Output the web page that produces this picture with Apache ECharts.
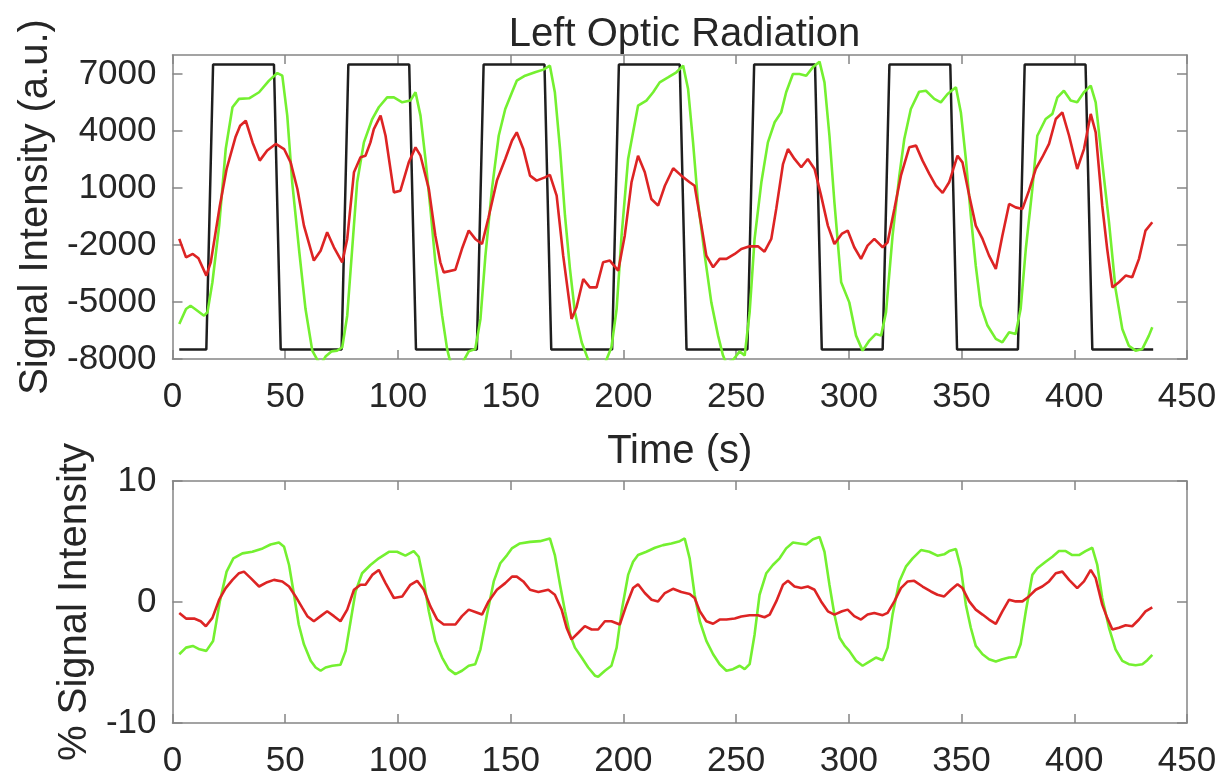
<!DOCTYPE html>
<html>
<head>
<meta charset="utf-8">
<script src="https://cdn.jsdelivr.net/npm/echarts@6/dist/echarts.min.js"></script>
<style>
  html, body { margin: 0; padding: 0; background: #ffffff; }
  #chart { width: 1225px; height: 779px; }
</style>
</head>
<body>
<div id="chart"></div>
<script>
// Block-design stimulus (on/off boxcar), [time (s), signal (a.u.)]
const stimulus = [
  [3,-7500],[15,-7500],[18,7500],[45,7500],[48,-7500],[75,-7500],[78,7500],[105,7500],
  [108,-7500],[135,-7500],[138,7500],[165,7500],[168,-7500],[195,-7500],[198,7500],
  [225,7500],[228,-7500],[255,-7500],[258,7500],[285,7500],[288,-7500],[315,-7500],
  [318,7500],[345,7500],[348,-7500],[375,-7500],[378,7500],[405,7500],[408,-7500],[435,-7500]
];

// Green time course, raw signal (a.u.)
const greenSignal = [
  [3,-6160],[6,-5370],[8,-5200],[10,-5370],[14,-5720],[15.5,-5540],[17.7,-3960],[20.7,-980],
  [23.6,3050],[26.6,5250],[29.5,5690],[34,5720],[38.4,6040],[42.8,6650],[46.5,7050],[48.7,6910],
  [50.9,4810],[53.1,1300],[56.1,-2210],[59,-5370],[62,-7560],[64.5,-8100],[66,-8250],[68,-7850],
  [70.5,-7600],[73,-7560],[75.3,-7380],[77.5,-5720],[79.7,-2210],[81.9,1300],[84.9,3400],
  [88.6,4630],[91.5,5250],[95.2,5770],[98.2,5770],[101.9,5510],[105.5,5600],[107.8,6040],
  [110,4810],[112.2,2530],[114.4,-100],[116.6,-2910],[119.6,-5720],[121.8,-7470],[123,-8050],
  [125.5,-8640],[128.4,-8240],[131.4,-7600],[134.3,-7470],[136.6,-5890],[138.8,-2560],
  [141.7,950],[144.7,3750],[147.6,5160],[150.6,6040],[152.7,6650],[156.4,6910],[160.8,7090],
  [164.5,7230],[167.4,7440],[169.6,6040],[171.9,3050],[174.1,-460],[176.3,-3260],[178.5,-5540],
  [181.5,-7120],[183.7,-7820],[185.5,-8400],[187.4,-8830],[188.8,-8960],[191.8,-8240],
  [194.7,-7380],[197,-5370],[199.2,-1510],[202.1,2530],[204.3,3930],[206.5,5330],[210.2,5600],
  [213.2,6040],[216.1,6560],[219.8,6820],[223.5,7090],[226.5,7440],[228.7,6210],[230.9,3400],
  [233.1,250],[236.1,-2560],[239,-5020],[242,-6770],[244.2,-7820],[245.7,-8240],[248.6,-8050],
  [251.6,-7600],[253.8,-7820],[256,-5540],[258.2,-1680],[261.2,1300],[264.1,3400],[267.1,4460],
  [270,4980],[272.2,6040],[275.2,7000],[278.1,7000],[281.1,6910],[284,7350],[287,7650],
  [289.2,6560],[291.4,3750],[293.6,250],[296.6,-3960],[300.2,-5020],[303.2,-6770],[306.1,-7560],
  [309.1,-7030],[312,-6680],[314.3,-6770],[316.5,-5540],[319.4,-1510],[322.4,1650],[324.6,3580],
  [327.5,5160],[331.2,6070],[334.2,6120],[337.9,5690],[340.8,5510],[343.8,5950],[347.5,6300],
  [349.7,4980],[351.9,2530],[354.1,-460],[356.3,-3090],[358.5,-5190],[361.5,-6240],[365.2,-6940],
  [368.1,-7120],[371.1,-6590],[374,-6680],[376.2,-5370],[378.5,-2210],[381.4,950],[383.6,3750],
  [387.3,4630],[390.3,4900],[392.5,5770],[395.4,6120],[398.4,5600],[401.3,5510],[404.3,6040],
  [407.3,6390],[409.5,5510],[412.4,2350],[415.4,-800],[418.3,-4310],[421.3,-6420],[424.2,-7300],
  [427.2,-7560],[430.2,-7470],[433.1,-6770],[434.6,-6330]
];

// Red time course, raw signal (a.u.)
const redSignal = [
  [3,-1680],[6,-2650],[9,-2470],[11.5,-2700],[15,-3610],[17,-2900],[21,70],[24,2000],[28,3700],
  [30,4280],[32.5,4540],[35.5,3400],[38.7,2440],[42,2970],[45.8,3320],[49.5,3050],[52.4,2350],
  [55.4,950],[58.3,-980],[62.7,-2820],[65.7,-2300],[68.6,-1330],[71.6,-2120],[75.3,-2910],
  [77.5,-1680],[80.5,1830],[83.4,2620],[85.6,2700],[87.8,3400],[89.3,4100],[92.3,4810],
  [94.5,3750],[98.2,770],[101.1,860],[104.8,2350],[107.8,3140],[110,2700],[113.7,950],
  [116.6,-1510],[118.8,-2910],[120.3,-3440],[125.5,-3300],[128.4,-2200],[131.4,-1240],
  [134.3,-1680],[137.3,-1950],[140.2,-540],[143.9,1390],[147.6,2530],[150.6,3500],[152.7,3930],
  [155.6,3050],[158.6,1650],[161.5,1390],[165.2,1560],[167.4,1690],[170.4,600],[173.3,-2560],
  [177,-5890],[179.2,-5280],[182.2,-3790],[185.1,-4230],[188.1,-4230],[191,-2910],[194,-2820],
  [197.7,-3350],[200.6,-1510],[203.6,1300],[206.5,2700],[209.5,1830],[212.4,420],[215.4,70],
  [218.4,1120],[222.1,2040],[225.7,1650],[229.4,1300],[231.6,1120],[234.6,-980],[236.8,-2560],
  [239.8,-3170],[242.7,-2730],[245.7,-2730],[249.4,-2470],[252.3,-2210],[256,-2070],
  [259.7,-2070],[262.6,-2350],[265.6,-1680],[267.8,-100],[270.8,2260],[273,3050],[275.9,2530],
  [278.9,2090],[281.8,2530],[284.8,2000],[287.7,600],[290.7,-980],[293.6,-1950],[297,-1400],
  [299.5,-1240],[302.4,-2120],[305.4,-2730],[308.3,-2030],[311.3,-1680],[315,-2120],
  [317.2,-1860],[320.2,-100],[323.1,1650],[326.8,3140],[329.8,3230],[332.7,2440],[335.7,1740],
  [338.6,1120],[341.6,740],[344.5,1300],[348.2,2700],[350.4,2350],[353.4,600],[356.3,-980],
  [359.3,-1680],[362.2,-2560],[365.2,-3260],[368.1,-1510],[371.1,160],[374,-20],[377,-100],
  [379.9,860],[382.9,2000],[385.8,2620],[388.8,3320],[391.8,4630],[394.7,4980],[397.7,3750],
  [401.3,2000],[404.3,3050],[407.3,4900],[409.5,3930],[412.4,70],[414.6,-2210],[416.9,-4230],
  [419.8,-3960],[422.8,-3610],[425.7,-3700],[428.7,-2730],[431.6,-1240],[434.6,-800]
];

// Green time course, percent signal change
const greenPercent = [
  [3,-4.32],[6,-3.77],[9,-3.63],[12,-3.91],[15,-4.04],[18,-3.22],[21,0.05],[24,2.51],[27,3.61],
  [31,4.02],[35.4,4.15],[40,4.43],[43.5,4.75],[47.2,4.92],[49.5,4.56],[51.7,3.06],[53.9,0.6],
  [56,-1.86],[58.3,-3.5],[61.3,-4.86],[63.5,-5.41],[65.7,-5.68],[67.9,-5.41],[70.9,-5.27],
  [74.5,-5.19],[76.8,-4.04],[79,-1.59],[81.2,0.87],[84.1,2.38],[87.8,3.06],[91.5,3.61],[96,4.15],
  [99.6,4.15],[103.3,3.83],[107,4.21],[109.2,3.74],[111.5,1.7],[113.7,-0.77],[116.6,-3.22],
  [119.6,-4.59],[122.5,-5.55],[125.5,-5.96],[128.4,-5.68],[131.4,-5.27],[134.3,-5.14],
  [136.6,-3.91],[139.5,-1.04],[142.5,1.7],[145.4,3.2],[148.4,3.88],[150.5,4.43],[154.1,4.84],
  [158.6,4.97],[163,5.03],[167.4,5.25],[169.6,3.88],[171.9,1.42],[174.1,-0.77],[176.3,-2.68],
  [178.5,-3.77],[181.5,-4.59],[184.4,-5.41],[187.4,-6.09],[188.8,-6.18],[191.8,-5.68],
  [194.7,-5.27],[197,-3.77],[199.2,-0.77],[202.1,2.24],[204.3,3.33],[206.5,3.88],[210.2,4.15],
  [214,4.48],[217.6,4.7],[221.3,4.84],[225,5.03],[227.2,5.25],[229.4,3.61],[231.6,0.6],
  [233.9,-1.59],[236.8,-3.22],[239.8,-4.32],[242.7,-5.14],[245.7,-5.68],[248.6,-5.55],
  [251.6,-5.27],[253.8,-5.55],[256,-5.14],[258.2,-2.68],[260.4,0.6],[263.4,2.38],[266.3,3.06],
  [269.3,3.61],[272.2,4.43],[275.2,4.92],[278.1,4.84],[281.1,4.75],[284.1,5.19],[287,5.38],
  [289.2,4.15],[291.4,1.42],[293.6,-1.04],[295.9,-2.95],[298.1,-3.6],[300.2,-4.04],[303.2,-4.86],
  [306.1,-5.27],[309.1,-4.92],[312,-4.59],[315,-4.81],[317.2,-3.77],[319.4,-1.04],[322.4,1.7],
  [325.3,2.92],[328.3,3.61],[332,4.29],[335.7,4.15],[339.3,3.83],[342.3,3.94],[344.5,4.21],
  [347.5,4.37],[349.7,2.79],[351.9,-0.22],[354.1,-2.13],[356.3,-3.63],[359.3,-4.32],
  [362.2,-4.73],[365.2,-4.92],[368.1,-4.73],[371.1,-4.59],[374,-4.54],[376.2,-3.5],
  [378.5,-0.77],[381.4,2.24],[383.6,2.79],[387.3,3.33],[390.3,3.74],[393.2,4.21],[396.2,4.21],
  [399.1,3.88],[402.1,3.88],[405,4.21],[408,4.48],[410.2,3.06],[412.4,0.33],[415.4,-2.13],
  [418.3,-3.91],[421.3,-4.86],[424.2,-5.14],[427.2,-5.22],[430.2,-5.14],[432.4,-4.81],[434.6,-4.37]
];

// Red time course, percent signal change
const redPercent = [
  [3,-0.9],[6,-1.37],[9.6,-1.37],[12.5,-1.59],[14.8,-2.0],[17.7,-1.31],[20.7,0.19],[23.6,1.15],
  [26.6,1.83],[29.5,2.38],[31.7,2.51],[34.7,1.97],[38.4,1.28],[42,1.64],[45,1.83],[48.7,1.7],
  [51.7,1.28],[54.6,0.46],[57.6,-0.49],[59.8,-1.17],[62.7,-1.59],[65.7,-1.17],[68.6,-0.77],
  [71.6,-1.17],[74.5,-1.59],[77.5,-0.63],[80.5,1.01],[83.4,1.42],[85.6,1.42],[88.6,2.24],
  [91.5,2.65],[94.5,1.56],[98.2,0.33],[101.9,0.46],[105.5,1.42],[108.5,1.75],[111.5,1.01],
  [114.4,-0.36],[117.4,-1.45],[120.3,-1.86],[125.5,-1.86],[128.4,-1.17],[131.4,-0.63],
  [134.3,-0.82],[137.3,-1.04],[140.2,0.05],[143.9,1.01],[147.6,1.56],[150.6,2.1],[152.7,2.1],
  [155.6,1.7],[158.6,1.01],[162.3,0.82],[166.7,1.01],[169.6,0.6],[172.6,-0.63],[174.8,-2.13],
  [177,-3.09],[180,-2.54],[182.9,-2.0],[185.9,-2.27],[188.8,-2.27],[191.8,-1.59],[194.7,-1.59],
  [198.4,-1.86],[201.4,-0.22],[204.3,1.15],[206.5,1.47],[209.5,0.74],[212.5,0.19],[215.4,0.05],
  [218.4,0.74],[222,1.09],[225.7,0.82],[229.4,0.66],[231.6,0.33],[233.9,-0.77],[236.8,-1.59],
  [239.8,-1.8],[242.7,-1.45],[245.7,-1.45],[249.4,-1.37],[252.3,-1.2],[256,-1.09],[259.7,-1.09],
  [262.6,-1.26],[264.9,-1.04],[267.8,0.05],[270.8,1.42],[273,1.75],[275.9,1.28],[278.9,1.15],
  [281.8,1.28],[284.8,1.01],[287.7,0.05],[290.7,-0.77],[293.6,-1.04],[297,-0.77],[299.5,-0.63],
  [302.4,-1.17],[305.4,-1.45],[308.3,-1.04],[311.3,-0.9],[315,-1.09],[317.2,-0.9],[320.2,0.05],
  [323.1,1.15],[326.1,1.7],[329,1.75],[332.7,1.28],[336.4,0.87],[339.3,0.6],[342.3,0.46],
  [345.3,1.01],[348.2,1.47],[350.4,1.15],[353.4,0.05],[356.3,-0.63],[359.3,-1.04],[362.2,-1.45],
  [365.2,-1.8],[368.1,-0.77],[371.1,0.19],[374,0.05],[377,0.05],[379.9,0.46],[382.9,1.01],
  [385.8,1.28],[388.8,1.7],[391.8,2.38],[394.7,2.51],[397.7,1.83],[401.3,1.15],[404.3,1.7],
  [407.3,2.65],[409.5,1.97],[412.4,-0.22],[414.6,-1.31],[416.9,-2.27],[419.8,-2.13],
  [422.8,-1.92],[425.7,-2.0],[428.7,-1.45],[431.6,-0.77],[434.6,-0.44]
];

// Axis ranges and tick positions
const timeRange = [0, 450];
const timeStep = 50;
const signalRange = [-8000, 8000];
const signalTicks = [-8000, -5000, -2000, 1000, 4000, 7000];
const percentRange = [-10, 10];
const percentTicks = [-10, 0, 10];

const FONT = '"Liberation Sans", Arial, Helvetica, sans-serif';
const TEXT = '#262626';
const BOX = { color: '#858585', width: 1.5 };
const TICK_FONT = 35;
const NAME_FONT = 40;
const plain = (v) => String(v);

function timeAxes(gridIndex, name) {
  const common = {
    type: 'value', gridIndex,
    min: timeRange[0], max: timeRange[1], interval: timeStep,
    axisLine: { show: true, onZero: false, lineStyle: BOX },
    axisTick: { show: true, inside: true, length: 9, lineStyle: BOX },
    splitLine: { show: false }
  };
  return [
    Object.assign({}, common, {
      position: 'bottom',
      axisLabel: { fontSize: TICK_FONT, color: TEXT, fontFamily: FONT, margin: 21, formatter: plain },
      name: name || '',
      nameLocation: 'middle',
      nameGap: 73,
      nameTextStyle: { fontSize: NAME_FONT, color: TEXT, fontFamily: FONT }
    }),
    Object.assign({}, common, { position: 'top', axisLabel: { show: false } })
  ];
}

function valueAxes(gridIndex, range, ticks, name, gap) {
  const common = {
    type: 'value', gridIndex, min: range[0], max: range[1],
    axisLine: { show: true, onZero: false, lineStyle: BOX },
    axisTick: { show: true, inside: true, length: 10, lineStyle: BOX, customValues: ticks },
    splitLine: { show: false }
  };
  return [
    Object.assign({}, common, {
      position: 'left',
      axisLabel: {
        fontSize: TICK_FONT, color: TEXT, fontFamily: FONT, margin: 16,
        customValues: ticks, formatter: plain
      },
      name,
      nameLocation: 'middle',
      nameGap: gap,
      nameTextStyle: { fontSize: NAME_FONT, color: TEXT, fontFamily: FONT }
    }),
    Object.assign({}, common, { position: 'right', axisLabel: { show: false } })
  ];
}

function trace(data, color, x, y, width, z) {
  return {
    type: 'line', data, xAxisIndex: x, yAxisIndex: y,
    showSymbol: false, symbol: 'none', clip: true, z,
    lineStyle: { color, width }
  };
}

const chart = echarts.init(document.getElementById('chart'), null, { renderer: 'canvas' });
chart.setOption({
  animation: false,
  backgroundColor: '#ffffff',
  title: {
    text: 'Left Optic Radiation',
    left: 679.5, top: 10, textAlign: 'center',
    textStyle: { fontSize: NAME_FONT, fontWeight: 'normal', color: TEXT, fontFamily: FONT }
  },
  grid: [
    { left: 172.5, top: 55, width: 1014.5, height: 304, containLabel: false },
    { left: 172.5, top: 481, width: 1014.5, height: 244, containLabel: false }
  ],
  xAxis: [].concat(timeAxes(0, 'Time (s)'), timeAxes(1, '')),
  yAxis: [].concat(
    valueAxes(0, signalRange, signalTicks, 'Signal Intensity (a.u.)', 110),
    valueAxes(1, percentRange, percentTicks, '% Signal Intensity', 74)
  ),
  series: [
    trace(stimulus, '#1e1e1e', 0, 0, 2.5, 2),
    trace(greenSignal, '#74f030', 0, 0, 2.6, 3),
    trace(redSignal, '#dd2424', 0, 0, 2.6, 4),
    trace(greenPercent, '#74f030', 2, 2, 2.6, 3),
    trace(redPercent, '#dd2424', 2, 2, 2.6, 4)
  ]
});
</script>
</body>
</html>
